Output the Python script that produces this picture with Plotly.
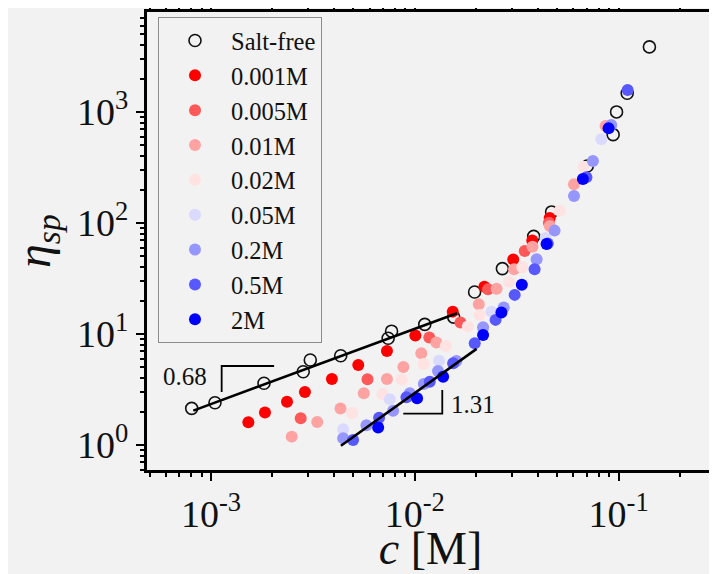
import plotly.graph_objects as go
import math

# ---------------- data ----------------
salt_free_c = [8.04e-4, 1.046e-3, 1.82e-3, 2.835e-3, 3.07e-3, 4.33e-3, 7.40e-3, 7.69e-3, 0.01119,
               0.01552, 0.01965, 0.0269, 0.0383, 0.0469, 0.0702, 0.0940, 0.0977, 0.1102, 0.1416]
salt_free_eta = [2.14, 2.40, 3.60, 4.57, 5.83, 6.37, 9.15, 10.6, 12.2,
                 14.2, 23.9, 38.8, 75.7, 125.7, 326, 624, 1000, 1473, 3853]

s0001_c = [1.525e-3, 1.84e-3, 2.36e-3, 2.89e-3, 3.92e-3, 5.28e-3, 7.30e-3, 0.01006, 0.01535,
           0.02194, 0.0304, 0.0377, 0.0459]
s0001_eta = [1.60, 1.96, 2.45, 3.00, 3.93, 5.26, 7.03, 9.69, 15.9, 26.7, 46.9, 69.5, 111]

s0005_c = [2.755e-3, 5.86e-3, 0.01178, 0.01675, 0.02286, 0.0346, 0.0455]
s0005_eta = [1.74, 3.91, 9.30, 12.7, 25.3, 56.0, 100.6]

s001_c = [2.49e-3, 3.32e-3, 4.32e-3, 5.62e-3, 7.30e-3, 8.79e-3, 0.01076, 0.01276, 0.0206,
          0.0252, 0.0307, 0.0378, 0.0459, 0.0604, 0.0863]
s001_eta = [1.19, 1.61, 2.13, 2.92, 3.93, 5.04, 6.70, 8.38, 18.5, 25.6, 38.3, 61.1, 94, 223, 748]

s002_c = [4.93e-3, 6.95e-3, 8.63e-3, 0.01104, 0.01419, 0.0182, 0.0208, 0.0290, 0.0337, 0.0514, 0.0673]
s002_eta = [1.94, 2.88, 3.89, 5.37, 7.80, 11.7, 14.8, 29.6, 39.9, 129, 321]

s005_c = [4.45e-3, 7.54e-3, 0.01315, 0.02163, 0.02377, 0.0438, 0.0822]
s005_eta = [1.385, 2.58, 5.75, 11.1, 15.9, 73.3, 568]

s02_c = [4.45e-3, 5.79e-3, 7.83e-3, 9.45e-3, 0.01107, 0.0130, 0.0160, 0.02163, 0.0273,
         0.0396, 0.0485, 0.0604, 0.0748, 0.0920]
s02_eta = [1.149, 1.51, 2.04, 2.92, 3.54, 4.64, 5.71, 11.5, 17.3, 47.1, 85.3, 175, 362, 763]

s05_c = [4.98e-3, 6.68e-3, 9.10e-3, 0.01184, 0.01542, 0.01968, 0.0249, 0.0309, 0.0387,
         0.0449, 0.0695, 0.1107]
s05_eta = [1.11, 1.76, 2.69, 3.72, 5.45, 8.24, 13.4, 22.5, 38.3, 65.4, 258, 1578]

s2_c = [6.61e-3, 0.01026, 0.01377, 0.02163, 0.0266, 0.0335, 0.0443, 0.0668, 0.0893]
s2_eta = [1.44, 2.64, 4.12, 9.79, 15.6, 27.8, 64.7, 249, 713]

fit1_c = [8.19e-4, 0.01611]
fit1_eta = [2.04, 15.4]
fit2_c = [4.34e-3, 0.0201]
fit2_eta = [0.986, 7.35]

tri1_c = [2.04e-3, 1.128e-3, 1.128e-3]
tri1_eta = [5.15, 5.15, 3.0]
tri2_c = [8.78e-3, 0.01364, 0.01364]
tri2_eta = [1.92, 1.92, 3.13]

slope_labels = ["0.68", "1.31"]
slope_label_c = [7.46e-4, 0.01923]
slope_label_eta = [4.10, 2.34]

series_names = ["0.001M", "0.005M", "0.01M", "0.02M", "0.05M", "0.2M", "0.5M", "2M"]
series_colors = ["rgb(255,0,0)", "rgb(255,88,88)", "rgb(255,162,162)", "rgb(255,226,226)",
                 "rgb(218,218,255)", "rgb(150,150,255)", "rgb(88,88,255)", "rgb(0,0,255)"]
series_c = [s0001_c, s0005_c, s001_c, s002_c, s005_c, s02_c, s05_c, s2_c]
series_eta = [s0001_eta, s0005_eta, s001_eta, s002_eta, s005_eta, s02_eta, s05_eta, s2_eta]

x_tickvals = [1e-3, 1e-2, 1e-1]
x_ticktext = ["10<sup>-3</sup>", "10<sup>-2</sup>", "10<sup>-1</sup>"]
y_tickvals = [1, 10, 100, 1000]
y_ticktext = ["10<sup>0</sup>", "10<sup>1</sup>", "10<sup>2</sup>", "10<sup>3</sup>"]

FONT = "Liberation Serif"
BG = "#f2f2f2"

fig = go.Figure()
fig.add_trace(go.Scatter(x=salt_free_c, y=salt_free_eta, mode="markers", name="Salt-free",
                         marker=dict(symbol="circle-open", size=12, color="#111111",
                                     line=dict(width=1.6, color="#111111"))))
for name, col, cx, cy in zip(series_names, series_colors, series_c, series_eta):
    fig.add_trace(go.Scatter(x=cx, y=cy, mode="markers", name=name,
                             marker=dict(symbol="circle", size=12, color=col,
                                         line=dict(width=0))))
for cx, cy in [(fit1_c, fit1_eta), (fit2_c, fit2_eta)]:
    fig.add_trace(go.Scatter(x=cx, y=cy, mode="lines", showlegend=False,
                             line=dict(color="black", width=2.6), hoverinfo="skip"))
for cx, cy in [(tri1_c, tri1_eta), (tri2_c, tri2_eta)]:
    fig.add_trace(go.Scatter(x=cx, y=cy, mode="lines", showlegend=False,
                             line=dict(color="black", width=1.8), hoverinfo="skip"))

for t, cx, cy in zip(slope_labels, slope_label_c, slope_label_eta):
    fig.add_annotation(x=math.log10(cx), y=math.log10(cy), text=t, showarrow=False,
                       xref="x", yref="y", font=dict(family=FONT, size=25, color="#111111"))

# y-axis title placed as a rotated annotation for exact positioning
fig.add_annotation(x=-0.194, y=0.5, xref="paper", yref="paper", showarrow=False,
                   text="<i>η</i><sub><i>sp</i></sub>", textangle=-90,
                   xanchor="center", yanchor="middle",
                   font=dict(family=FONT, size=48, color="#111111"))


def minor_vals(lo, hi):
    return [m * 10 ** e for e in range(lo, hi) for m in range(2, 10)]


axis_common = dict(type="log", showgrid=False, zeroline=False, showline=True, linecolor="black",
                   linewidth=3, mirror="ticks", ticks="outside", ticklen=8, tickwidth=2,
                   tickcolor="black", tickmode="array", automargin=False,
                   tickfont=dict(family=FONT, size=38, color="#111111"))

fig.update_xaxes(**axis_common, tickvals=x_tickvals, ticktext=x_ticktext,
                 range=[-3.314, -0.532],
                 minor=dict(ticks="outside", ticklen=4, tickwidth=1.5, tickcolor="black",
                            tickmode="array", tickvals=minor_vals(-4, 0), showgrid=False),
                 title=dict(text="<i>c</i> [M]", font=dict(family=FONT, size=46, color="#111111"),
                            standoff=0))
fig.update_yaxes(**axis_common, tickvals=y_tickvals, ticktext=y_ticktext,
                 range=[-0.225, 3.90],
                 minor=dict(ticks="outside", ticklen=4, tickwidth=1.5, tickcolor="black",
                            tickmode="array", tickvals=minor_vals(-1, 4), showgrid=False))

# the page body adds an 8px offset; the figure is sized so that the plot box lands where the reference has it
fig.update_layout(
    width=709, height=566,
    margin=dict(l=139, r=3, t=4, b=104, autoexpand=False),
    paper_bgcolor=BG, plot_bgcolor=BG,
    showlegend=True,
    legend=dict(x=0.0194, y=0.989, xanchor="left", yanchor="top",
                bgcolor=BG, bordercolor="#8c8c8c", borderwidth=1,
                font=dict(family=FONT, size=24.5, color="#111111"),
                itemwidth=62, tracegroupgap=0),
)

fig.write_html("out.html")
